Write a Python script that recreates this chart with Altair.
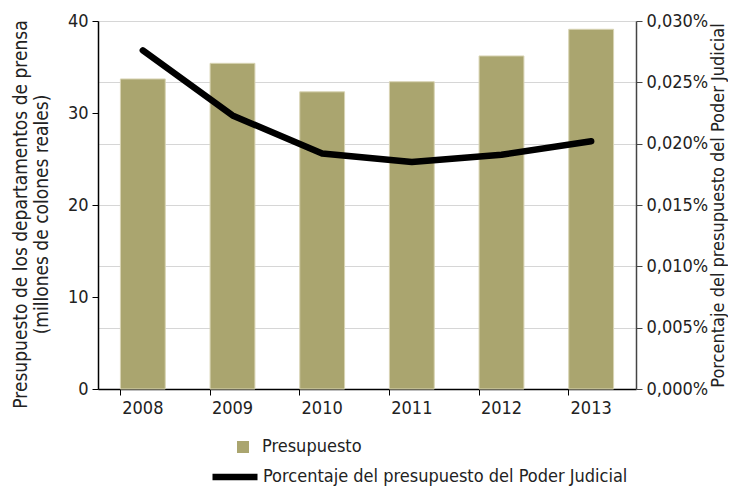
import altair as alt
import pandas as pd

years = ["2008", "2009", "2010", "2011", "2012", "2013"]
presupuesto = [33.7, 35.4, 32.3, 33.4, 36.2, 39.1]
porcentaje = [0.0276, 0.0223, 0.0192, 0.0185, 0.0191, 0.0202]

df = pd.DataFrame({
    "year": years,
    "presupuesto": presupuesto,
    "porcentaje": porcentaje,
    "s1": ["Presupuesto"] * len(years),
    "s2": ["Porcentaje del presupuesto del Poder Judicial"] * len(years),
})

FONT = "DejaVu Sans Condensed, Roboto, sans-serif"
TXT = "#222222"

x_enc = alt.X("year:N", title=None, sort=years,
              scale=alt.Scale(paddingInner=0.5, paddingOuter=0.25),
              axis=alt.Axis(labelAngle=0, domainColor="#000000", tickColor="#000000",
                            tickSize=6, labelPadding=4, bandPosition=0, grid=False))

bars = alt.Chart(df).mark_bar(color="#aaa56f", stroke="#d8d4b4", strokeWidth=1).encode(
    x=x_enc,
    y=alt.Y("presupuesto:Q",
            scale=alt.Scale(domain=[0, 40]),
            axis=alt.Axis(values=[0, 10, 20, 30, 40], grid=False, orient="left",
                          title=["Presupuesto de los departamentos de prensa",
                                 "(millones de colones reales)"],
                          titleFontSize=19, titleLineHeight=21,
                          domainColor="#000000", tickColor="#000000", tickSize=6,
                          titlePadding=16, titleY=193, labelPadding=4)),
    fill=alt.Fill("s1:N", scale=alt.Scale(range=["#aaa56f"]),
                  legend=alt.Legend(title=None, orient="none", legendX=136, legendY=417,
                                    symbolType="square", symbolSize=144, labelOffset=10,
                                    symbolStrokeWidth=0, padding=0)),
)

line = alt.Chart(df).mark_line(color="#000000", strokeWidth=6.5, strokeCap="round",
                               strokeJoin="round").encode(
    x=alt.X("year:N", sort=years),
    y=alt.Y("porcentaje:Q",
            scale=alt.Scale(domain=[0, 0.03]),
            axis=alt.Axis(values=[0, 0.005, 0.01, 0.015, 0.02, 0.025, 0.03],
                          orient="right", grid=True, gridColor="#d6d6d6",
                          labelExpr="replace(format(datum.value, '.3f'), '.', ',') + '%'",
                          title="Porcentaje del presupuesto del Poder Judicial",
                          titleAngle=270, titleBaseline="middle", titleX=82,
                          titleY=184,
                          domainColor="#444444", tickColor="#444444", tickSize=6,
                          labelPadding=4)),
    stroke=alt.Stroke("s2:N", scale=alt.Scale(range=["#000000"]),
                      legend=alt.Legend(title=None, orient="none", legendX=111, legendY=430,
                                        symbolType="stroke", symbolSize=2025,
                                        symbolStrokeWidth=6.5, labelOffset=2, padding=0)),
)

chart = alt.layer(bars, line).resolve_scale(
    y="independent", fill="independent", stroke="independent"
).properties(
    width=538, height=368,
    autosize=alt.AutoSizeParams(type="none"),
    padding={"left": 90, "top": 13, "right": 92, "bottom": 97},
).configure_view(stroke=None).configure_axis(
    labelFont=FONT, titleFont=FONT, labelFontSize=18, titleFontSize=18,
    labelColor=TXT, titleColor=TXT, titleFontWeight="normal", domainWidth=1.5,
).configure_legend(
    labelFont=FONT, labelFontSize=18, labelColor=TXT, labelLimit=600,
)

chart.save("out.html", embed_options={"renderer": "svg", "actions": False})
